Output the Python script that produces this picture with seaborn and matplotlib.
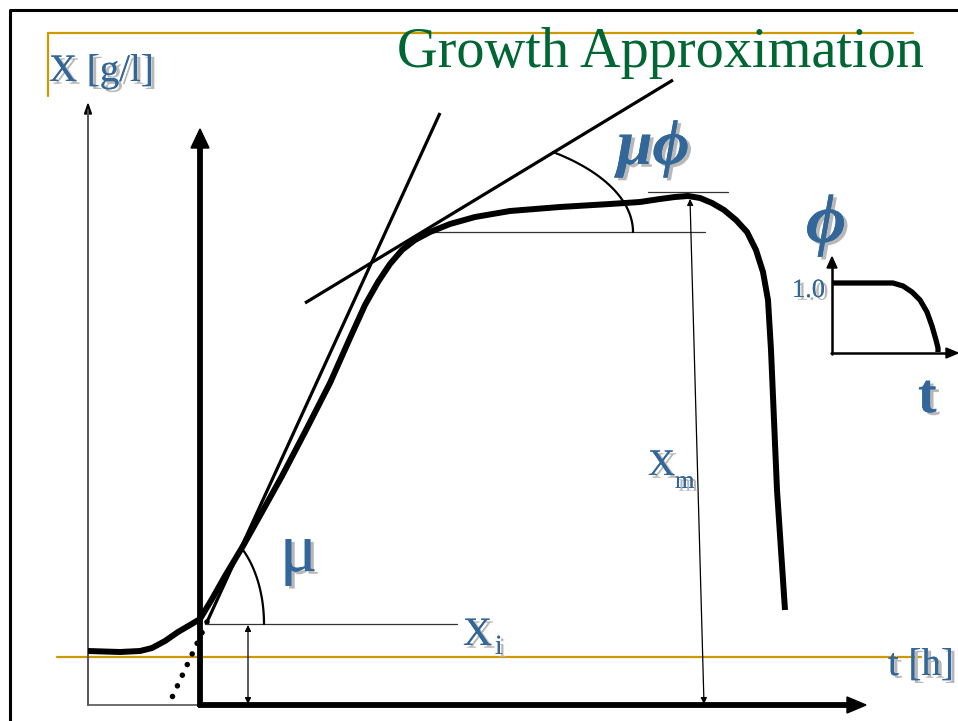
import numpy as np
import matplotlib
matplotlib.use("Agg")
import matplotlib.pyplot as plt
import matplotlib.patheffects as pe
from matplotlib.patches import Polygon
import pandas as pd
import seaborn as sns

sns.set_theme(style="white")
plt.rcParams["font.family"] = ["Liberation Serif", "DejaVu Serif"]

# ---- data (pixel-like coordinates, y grows downward) ----
growth_t = [88, 120, 140, 152, 165, 178, 190, 200, 212, 225, 243, 262, 282, 305,
            330, 350, 365, 378, 390, 402, 415, 430, 450, 475, 510, 560, 610, 640,
            660, 675, 688, 700, 712, 724, 736, 747, 756, 763, 768, 771, 774, 777,
            781, 785]
growth_x = [651, 652, 651, 648, 641, 632, 625, 619, 599, 576, 546, 512, 476, 432,
            383, 338, 305, 282, 264, 250, 240, 232, 224, 217, 211, 207, 204, 202,
            199, 197, 196, 198, 203, 210, 220, 232, 250, 272, 300, 350, 420, 490,
            550, 610]

phi_t = [832, 893, 903, 912, 920, 927, 932, 936, 938, 938]
phi_v = [283, 283, 286, 292, 300, 312, 326, 340, 348, 352]

BLUE = "#336699"
GOLD = "#CC9900"
GREEN = "#006633"

fig = plt.figure(figsize=(9.58, 7.21), dpi=100)
ax = fig.add_axes([0, 0, 1, 1])
ax.set_xlim(0, 958)
ax.set_ylim(721, 0)
ax.axis("off")

shadow = [pe.withSimplePatchShadow(offset=(2.5, -2.0), shadow_rgbFace="#b8b8b8", alpha=1.0), pe.Normal()]

# frame and gold rules
ax.plot([10, 10, 958], [721, 10, 10], color="black", lw=2.2, solid_capstyle="butt")
ax.plot([48, 913], [33, 33], color=GOLD, lw=1.6)
ax.plot([48, 48], [33, 96], color=GOLD, lw=1.6)
ax.plot([57, 921], [657, 657], color=GOLD, lw=1.6)

# thin outer axes (box on the left)
ax.plot([88, 88], [705, 110], color="#555555", lw=1.4)
ax.add_patch(Polygon([[88, 104], [84.5, 114], [91.5, 114]], closed=True, color="black"))
ax.plot([88, 200], [705, 705], color="#555555", lw=1.2)

# thick main axes
ax.plot([200, 200], [707, 146], color="black", lw=4.2, solid_capstyle="butt")
ax.add_patch(Polygon([[200, 129], [191, 148], [209, 148]], closed=True, color="black"))
ax.plot([198, 848], [705, 705], color="black", lw=4.2, solid_capstyle="butt")
ax.add_patch(Polygon([[866, 705], [847, 697], [847, 713]], closed=True, color="black"))

# tangent lines
ax.plot([440, 207], [113, 622], color="black", lw=2.3, solid_capstyle="butt")
ax.plot([207, 169], [622, 704], color="black", lw=4.0, linestyle=(0, (0.01, 2.1)),
        dash_capstyle="round")
ax.plot([305, 673], [303, 80], color="black", lw=2.3, solid_capstyle="butt")

# reference horizontals
ax.plot([205, 457], [624, 624], color="#333333", lw=0.9)
ax.plot([430, 705], [232, 232], color="#333333", lw=0.9)
ax.plot([648, 728], [192, 192], color="#333333", lw=0.9)

# angle arcs (elliptical)
th = np.linspace(0, np.deg2rad(51.4), 60)
ax.plot(420 + 213 * np.cos(th), 232 - 102.4 * np.sin(th), color="black", lw=1.6)
th = np.linspace(0, np.deg2rad(49.9), 60)
ax.plot(205 + 59 * np.cos(th), 624 - 96.7 * np.sin(th), color="black", lw=1.6)

# dimension arrows
ax.annotate("", xy=(690, 199), xytext=(704, 704),
            arrowprops=dict(arrowstyle="<|-|>", lw=0.9, color="black",
                            mutation_scale=9, shrinkA=0, shrinkB=0))
ax.annotate("", xy=(248, 625), xytext=(248, 704),
            arrowprops=dict(arrowstyle="<|-|>", lw=0.9, color="black",
                            mutation_scale=9, shrinkA=0, shrinkB=0))

# growth curve
df = pd.DataFrame({"t": growth_t, "X": growth_x})
sns.lineplot(data=df, x="t", y="X", sort=False, estimator=None, color="black",
             lw=4.3, ax=ax, solid_capstyle="butt", solid_joinstyle="round")

# inset phi(t)
ax.plot([832, 832], [354, 266], color="black", lw=1.8)
ax.add_patch(Polygon([[832, 257], [827, 268], [837, 268]], closed=True, color="black"))
ax.plot([831, 947], [353, 353], color="black", lw=1.8)
ax.add_patch(Polygon([[958, 353], [946, 348], [946, 358]], closed=True, color="black"))
dfp = pd.DataFrame({"t": phi_t, "phi": phi_v})
sns.lineplot(data=dfp, x="t", y="phi", sort=False, estimator=None, color="black",
             lw=3.8, ax=ax, solid_capstyle="butt", solid_joinstyle="round")

# texts
ax.text(397, 67, "Growth Approximation", color=GREEN, fontsize=40.6, va="baseline")
ax.text(49, 81, "X [g/l]", color=BLUE, fontsize=28, va="baseline", path_effects=shadow)
ax.text(280, 571, "μ", color=BLUE, fontsize=50, va="baseline", path_effects=shadow)
ax.text(617, 164, "μϕ", color=BLUE, fontsize=46, style="italic", weight="bold",
        va="baseline", path_effects=shadow,
        family=["Liberation Serif", "DejaVu Serif"])
ax.text(806, 242, "ϕ", color=BLUE, fontsize=50, style="italic", weight="bold",
        va="baseline", path_effects=shadow,
        family=["Liberation Serif", "DejaVu Serif"])
ax.text(792, 297, "1.0", color=BLUE, fontsize=19, va="baseline", path_effects=shadow)
ax.text(918, 412, "t", color=BLUE, fontsize=40, weight="bold", va="baseline",
        path_effects=shadow)
ax.text(648, 475, "X", color=BLUE, fontsize=27, va="baseline", path_effects=shadow)
ax.text(675, 488, "m", color=BLUE, fontsize=18, va="baseline", path_effects=shadow)
ax.text(463, 645, "X", color=BLUE, fontsize=29, va="baseline", path_effects=shadow)
ax.text(495, 654, "i", color=BLUE, fontsize=20, va="baseline", path_effects=shadow)
ax.text(888, 675, "t [h]", color=BLUE, fontsize=28, va="baseline", path_effects=shadow)

fig.savefig("out.png", dpi=100)
